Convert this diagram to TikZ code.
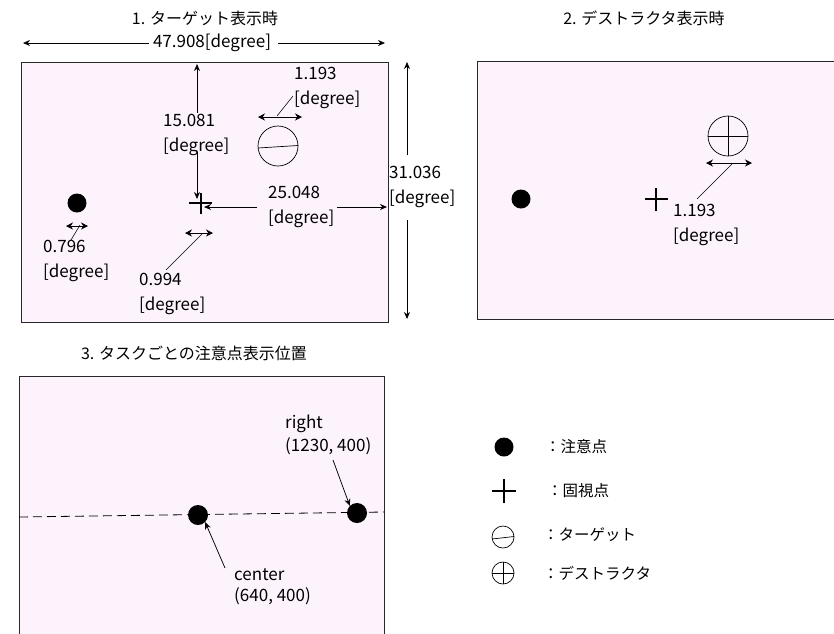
\documentclass[tikz,border=0pt]{standalone}
\usepackage{fontspec}
\setmainfont{Noto Sans CJK JP}
\usetikzlibrary{arrows.meta}
\definecolor{panelfill}{RGB}{253,243,252}
\definecolor{edge}{RGB}{40,40,40}
\tikzset{
  panel/.style={draw=edge, fill=panelfill, line width=0.8pt},
  lbl/.style={font=\fontsize{17}{25}\selectfont, inner sep=0pt, align=left, anchor=west},
  leg/.style={font=\fontsize{15.5}{20}\selectfont, inner sep=0pt, anchor=west},
  ttl/.style={font=\fontsize{16}{18}\selectfont, inner sep=0pt},
  dimarrow/.style={line width=0.75pt, -{Stealth[length=7pt,width=6pt]}},
  ddim/.style={line width=0.75pt, {Stealth[length=7pt,width=7pt]}-{Stealth[length=7pt,width=7pt]}},
  leader/.style={line width=0.55pt},
  attn/.style={circle, fill=black, minimum size=19pt, inner sep=0pt},
  fixcross/.style={line width=1.8pt},
  ring/.style={line width=0.7pt},
}
\newcommand{\degl}{{}[degree]}
\begin{document}
\begin{tikzpicture}[x=1pt,y=-1pt]
\useasboundingbox (0,0) rectangle (834,633);

% ---------------- Panel 1 ----------------
\node[ttl] (t1) at (205,18) {1. ターゲット表示時};
\draw[panel] (21,62) rectangle (388,322);
\node[lbl, anchor=center] (w1) at (212,43) {47.908[degree]};
\coordinate (w1l) at (23,43);
\coordinate (w1r) at (385,43);
\draw[dimarrow] (w1.west) ++(-4,0) -- (w1l);
\draw[dimarrow] (w1.east) ++(7,0) -- (w1r);

\coordinate (h1t) at (407,62);
\coordinate (h1b) at (407,319);
\node[lbl] (h1) at (389,187) {31.036\\\degl};
\draw[dimarrow] (407,155) -- (h1t);
\draw[dimarrow] (407,220) -- (h1b);

\node[attn] (d1) at (77,203) {};
\coordinate (c1) at (200,203);
\draw[fixcross] (189,203) -- (212,203) (201,193) -- (201,214);

% vertical 15.081
\coordinate (v1top) at (197,64);
\coordinate (v1bot) at (197,199);
\node[lbl] (v1) at (163,135) {15.081\\\degl};
\draw[dimarrow] (197,113) -- (v1top);
\draw[dimarrow] (197,152) -- (v1bot);

% horizontal 25.048
\coordinate (hz1l) at (204,207);
\coordinate (hz1r) at (387,207);
\node[lbl] (hz1) at (268,207) {25.048\\\degl};
\draw[dimarrow] (257,207) -- (hz1l);
\draw[dimarrow] (337,207) -- (hz1r);

% target
\coordinate (tg) at (278,146);
\draw[ring] (tg) circle (20);
\draw[ring] (258,148) -- (298,145.5);
\draw[ddim] (258,117) -- (302,117);
\node[lbl] (tgl) at (294,88) {1.193\\\degl};
\draw[leader] (277,116) -- (293,96);

% 0.796
\draw[ddim] (66,226) -- (88,226);
\node[lbl] (l796) at (43,261) {0.796\\\degl};
\draw[leader] (71,240) -- (80,225);

% 0.994
\draw[ddim] (185,233) -- (213,233);
\node[lbl] (l994) at (139,294) {0.994\\\degl};
\draw[leader] (166,270) -- (202,234);

% ---------------- Panel 2 ----------------
\node[ttl] (t2) at (644,18) {2. デストラクタ表示時};
\draw[panel] (477,61) rectangle (845,319);
\node[attn] (d2) at (521,199) {};
\draw[fixcross] (645,199) -- (668,199) (656,188) -- (656,211);
\coordinate (ds) at (728,136);
\draw[ring] (ds) circle (20);
\draw[ring] (708,136) -- (748,136) (728,116) -- (728,156);
\draw[ddim] (706,163) -- (752,163);
\node[lbl] (dsl) at (673,225) {1.193\\\degl};
\draw[leader] (697,199) -- (732,164);

% ---------------- Panel 3 ----------------
\node[ttl] (t3) at (194,353) {3. タスクごとの注意点表示位置};
\draw[panel] (19,376) rectangle (384,645);
\draw[line width=0.8pt, dash pattern=on 9pt off 5pt] (19,517) -- (384,512);
\node[attn, minimum size=20pt] (cen) at (198,515) {};
\node[attn, minimum size=20pt] (rig) at (357,513) {};
\node[lbl, font=\fontsize{17}{23}\selectfont] (rl) at (285,435) {right\\(1230, 400)};
\node[lbl, font=\fontsize{17}{21}\selectfont] (cl) at (234,587) {center\\(640, 400)};
\draw[dimarrow] (333,460) -- (rig.north west);
\draw[dimarrow] (225,568) -- (cen.south east);

% ---------------- Legend ----------------
\node[attn] (ld) at (504,447) {};
\node[leg] (ldt) at (545,447) {：注意点};
\draw[fixcross] (492,491) -- (516,491) (504,479) -- (504,503);
\node[leg] (lct) at (547,491) {：固視点};
\draw[ring] (503,537) circle (11);
\draw[ring] (492,539) -- (514,536.5);
\node[leg] (ltt) at (543,535) {：ターゲット};
\draw[ring] (503,573) circle (11);
\draw[ring] (492,573) -- (514,573) (503,562) -- (503,584);
\node[leg] (lst) at (543,573) {：デストラクタ};
\end{tikzpicture}
\end{document}
